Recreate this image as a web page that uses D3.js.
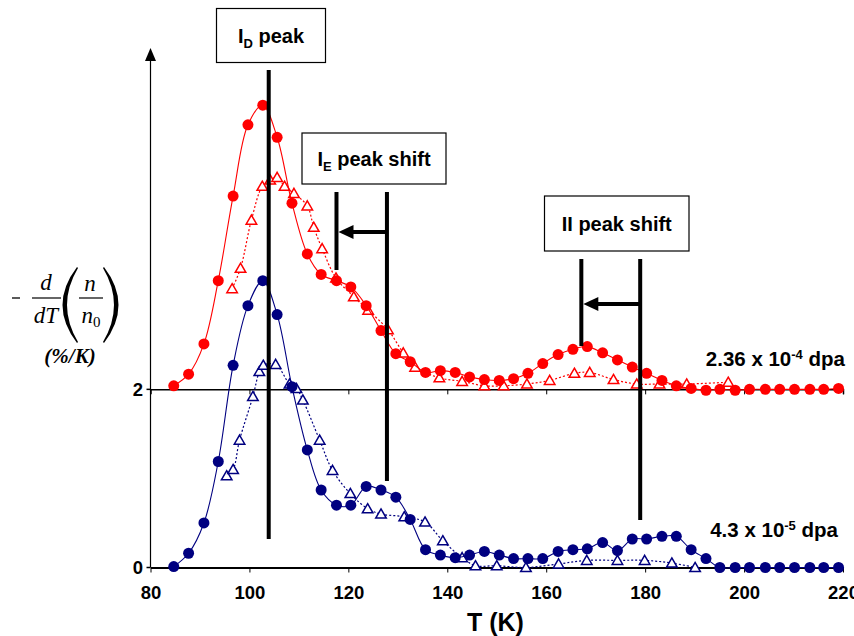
<!DOCTYPE html>
<html>
<head>
<meta charset="utf-8">
<script src="https://cdn.jsdelivr.net/npm/d3@7"></script>
<style>
  body { margin: 0; background: #fff; }
  svg { display: block; }
  .lbl { font-family: "Liberation Sans", Arial, sans-serif; font-weight: bold; }
  .math { font-family: "Liberation Serif", "Times New Roman", serif; font-style: italic; }
</style>
</head>
<body>
<script>
// temperatures of the filled-circle points (both doses)
const tCircles = [84.7, 87.7, 90.8, 93.7, 96.7, 99.7, 102.7, 105.6, 108.6, 111.7, 114.5, 117.6,
    120.5, 123.6, 126.6, 129.6, 132.5, 135.6, 138.6, 141.6, 144.5, 147.5, 150.5, 153.4, 156.3,
    159.3, 162.4, 165.4, 168.3, 171.4, 174.4, 177.4, 180.3, 183.4, 186.3, 189.3, 192.3, 195.1,
    198.2, 201.1, 204.3, 207.2, 210.2, 213.3, 216.1, 219.1];

// 2.36e-4 dpa, filled circles (values above the shifted baseline)
const redCircles = [0.04, 0.17, 0.51, 1.22, 2.17, 2.97, 3.19, 2.83, 2.09, 1.52, 1.29, 1.22,
    1.15, 0.94, 0.66, 0.40, 0.31, 0.19, 0.21, 0.19, 0.14, 0.11, 0.10, 0.12, 0.18,
    0.29, 0.39, 0.45, 0.48, 0.41, 0.33, 0.25, 0.18, 0.10, 0.04, 0.01, -0.01, 0.0,
    -0.01, 0.0, 0.0, 0.0, 0.0, 0.0, 0.0, 0.01];

// 4.3e-5 dpa, filled circles
const blueCircles = [0.01, 0.16, 0.50, 1.19, 2.27, 2.94, 3.22, 2.84, 2.03, 1.32, 0.87, 0.70,
    0.70, 0.91, 0.87, 0.79, 0.54, 0.20, 0.14, 0.11, 0.14, 0.18, 0.14, 0.10, 0.10,
    0.10, 0.18, 0.20, 0.21, 0.28, 0.19, 0.32, 0.32, 0.35, 0.35, 0.20, 0.10, 0.0,
    0.0, 0.0, 0.0, 0.0, 0.0, 0.0, 0.0, 0.0];

// open triangles (dotted)
const tRedTri = [96.5, 98.2, 100.4, 102.6, 104.2, 105.6, 107.1, 109.0, 111.7, 113.0, 114.7, 117.5,
    121.1, 124.0, 128.0, 131.1, 133.5, 138.4, 143.0, 147.5, 151.4, 156.1, 160.7, 165.7,
    168.8, 173.6, 178.3, 182.9, 188.4, 196.8];
const redTri = [1.13, 1.36, 1.90, 2.28, 2.35, 2.38, 2.28, 2.20, 2.06, 1.82, 1.58, 1.25,
    1.04, 0.89, 0.67, 0.41, 0.25, 0.13, 0.09, 0.04, 0.04, 0.06, 0.10, 0.18,
    0.19, 0.11, 0.06, 0.06, 0.06, 0.08];

const tBlueTri = [95.4, 96.7, 98.0, 100.7, 102.0, 102.8, 105.3, 108.1, 109.5, 110.8, 114.2, 116.8,
    120.4, 123.9, 126.6, 131.3, 135.5, 139.1, 143.0, 145.7, 150.0, 155.9, 162.5, 168.2,
    174.4, 179.9, 185.4, 190.1];
const blueTri = [1.03, 1.10, 1.43, 1.92, 2.20, 2.27, 2.28, 2.06, 2.01, 1.88, 1.43, 1.09,
    0.83, 0.66, 0.60, 0.57, 0.51, 0.30, 0.11, 0.02, 0.02, 0.0, 0.04, 0.08,
    0.08, 0.08, 0.05, 0.0];

const xTicks = [80, 100, 120, 140, 160, 180, 200, 220];
const yTicks = [0, 2];
const redOffset = 2;

const width = 854, height = 636;
const svg = d3.select("body").append("svg").attr("width", width).attr("height", height);

const x = d3.scaleLinear().domain([80, 220]).range([150.5, 843]);
const y = d3.scaleLinear().domain([0, 5.81]).range([567.5, 50]);

// baseline at 2 (second x axis)
const axis2 = svg.append("g").attr("transform", `translate(0,${y(2)})`)
    .call(d3.axisBottom(x).tickValues(xTicks.slice(1)).tickSize(5).tickFormat(""));
axis2.select(".domain").attr("stroke-width", 1.5);

// bottom axis
const axis0 = svg.append("g").attr("transform", `translate(0,${y(0)})`)
    .call(d3.axisBottom(x).tickValues(xTicks).tickSize(5).tickSizeOuter(0));
axis0.select(".domain").attr("stroke-width", 2);
axis0.selectAll(".tick text")
    .attr("font-family", "Liberation Sans, Arial, sans-serif").attr("font-weight", "bold")
    .attr("font-size", 18.5).attr("y", 31).attr("dy", 0);

// y axis with arrow
svg.append("line").attr("x1", x(80)).attr("x2", x(80)).attr("y1", y(0)).attr("y2", 60)
    .attr("stroke", "#000").attr("stroke-width", 1.2);
svg.append("path").attr("d", `M${x(80)},48 L${x(80) - 5.5},61 L${x(80) + 5.5},61 Z`).attr("fill", "#000");
yTicks.forEach(v => {
    svg.append("line").attr("x1", x(80) - 4).attr("x2", x(80)).attr("y1", y(v)).attr("y2", y(v))
        .attr("stroke", "#000").attr("stroke-width", 1.5);
    svg.append("text").attr("class", "lbl").attr("font-size", 18.5)
        .attr("x", 143).attr("y", y(v) + 6.5).attr("text-anchor", "end").text(v);
});

// x title
svg.append("text").attr("class", "lbl").attr("font-size", 25)
    .attr("x", 467).attr("y", 631).text("T (K)");

// y title: -d/dT (n/n0)
const yl = svg.append("g");
yl.append("line").attr("x1", 12).attr("x2", 20).attr("y1", 298).attr("y2", 298).attr("stroke", "#000").attr("stroke-width", 1.3);
yl.append("line").attr("x1", 32).attr("x2", 61).attr("y1", 298).attr("y2", 298).attr("stroke", "#000").attr("stroke-width", 1.2);
yl.append("text").attr("class", "math").attr("font-size", 23).attr("x", 46).attr("y", 290).attr("text-anchor", "middle").text("d");
yl.append("text").attr("class", "math").attr("font-size", 23).attr("x", 46).attr("y", 323).attr("text-anchor", "middle").text("dT");
// big brackets
yl.append("path").attr("d", "M77,267 Q48,305 77,343 L78,342 Q56,305 78,268 Z").attr("fill", "#000");
yl.append("path").attr("d", "M104,267 Q133,305 104,343 L103,342 Q125,305 103,268 Z").attr("fill", "#000");
yl.append("line").attr("x1", 79).attr("x2", 103).attr("y1", 298).attr("y2", 298).attr("stroke", "#000").attr("stroke-width", 1.2);
yl.append("text").attr("class", "math").attr("font-size", 23).attr("x", 90).attr("y", 291).attr("text-anchor", "middle").text("n");
const n0 = yl.append("text").attr("class", "math").attr("font-size", 23).attr("x", 91).attr("y", 323).attr("text-anchor", "middle");
n0.append("tspan").text("n");
n0.append("tspan").attr("font-size", 15).attr("font-style", "normal").attr("dy", 4).text("0");
yl.append("text").attr("class", "math").attr("font-weight", "bold").attr("font-size", 21)
    .attr("x", 70).attr("y", 363).attr("text-anchor", "middle").text("(%/K)");

// series
const red = "#ff0000", blue = "#000080";
const line = d3.line().x(d => x(d[0])).y(d => y(d[1])).curve(d3.curveCatmullRom.alpha(0.5));

function drawSeries(ts, vs, off, color, dotted, marker) {
    const pts = ts.map((t, i) => [t, vs[i] + off]);
    svg.append("path").datum(pts).attr("d", line).attr("fill", "none")
        .attr("stroke", color).attr("stroke-width", dotted ? 1.2 : 1.1)
        .attr("stroke-dasharray", dotted ? "2,2" : null);
    if (marker === "circle") {
        svg.append("g").selectAll("circle").data(pts).join("circle")
            .attr("cx", d => x(d[0])).attr("cy", d => y(d[1])).attr("r", 5.5).attr("fill", color);
    } else {
        const tri = d3.symbol().type(d3.symbolTriangle).size(48);
        svg.append("g").selectAll("path").data(pts).join("path")
            .attr("d", tri).attr("transform", d => `translate(${x(d[0])},${y(d[1]) + 1})`)
            .attr("fill", "#fff").attr("stroke", color).attr("stroke-width", 1.5);
    }
}

drawSeries(tBlueTri, blueTri, 0, blue, true, "tri");
drawSeries(tCircles, blueCircles, 0, blue, false, "circle");
drawSeries(tRedTri, redTri, redOffset, red, true, "tri");
drawSeries(tCircles, redCircles, redOffset, red, false, "circle");

// annotations
function vbar(t, y1, y2) {
    svg.append("line").attr("x1", x(t)).attr("x2", x(t)).attr("y1", y1).attr("y2", y2)
        .attr("stroke", "#000").attr("stroke-width", 4);
}
function arrowLeft(tFrom, tTo, yy) {
    svg.append("line").attr("x1", x(tFrom)).attr("x2", x(tTo) + 14).attr("y1", yy).attr("y2", yy)
        .attr("stroke", "#000").attr("stroke-width", 4);
    svg.append("path").attr("d", `M${x(tTo) + 2},${yy} L${x(tTo) + 17},${yy - 7} L${x(tTo) + 17},${yy + 7} Z`)
        .attr("fill", "#000");
}
function box(x0, y0, w, h, main, sub, rest) {
    svg.append("rect").attr("x", x0).attr("y", y0).attr("width", w).attr("height", h)
        .attr("fill", "#fff").attr("stroke", "#000").attr("stroke-width", 1.2);
    const t = svg.append("text").attr("class", "lbl").attr("font-size", 20)
        .attr("x", x0 + w / 2).attr("y", y0 + h / 2 + 7).attr("text-anchor", "middle");
    t.append("tspan").text(main);
    if (sub) {
        t.append("tspan").attr("font-size", 13).attr("dy", 5).text(sub);
        t.append("tspan").attr("dy", -5).text(rest);
    }
}

vbar(103.9, 70, 539);
box(216.5, 8.5, 109, 54, "I", "D", " peak");

vbar(117.6, 192, 270);
vbar(127.8, 192, 481);
arrowLeft(127.8, 117.6, 232);
box(302, 133, 144, 51, "I", "E", " peak shift");

vbar(167.1, 259, 346);
vbar(179.0, 259, 520);
arrowLeft(179.0, 167.1, 304);
box(544.5, 196, 144.5, 55, "II peak shift");

// dose labels
function dose(xx, yy, base, exp) {
    const t = svg.append("text").attr("class", "lbl").attr("font-size", 20.5).attr("x", xx).attr("y", yy).attr("text-anchor", "end");
    t.append("tspan").text(base);
    t.append("tspan").attr("font-size", 13).attr("dy", -7).text(exp);
    t.append("tspan").attr("dy", 7).text(" dpa");
}
dose(845, 366, "2.36 x 10", "-4");
dose(838, 537, "4.3 x 10", "-5");
</script>
</body>
</html>
